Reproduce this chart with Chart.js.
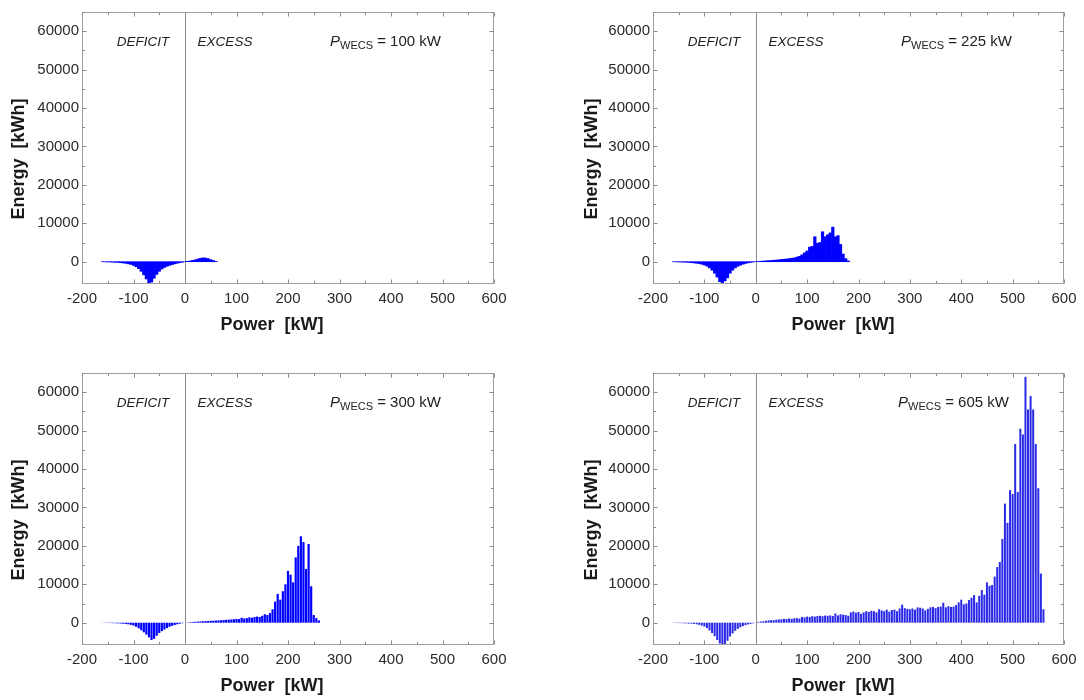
<!DOCTYPE html>
<html><head><meta charset="utf-8">
<script src="https://cdn.jsdelivr.net/npm/chart.js@4/dist/chart.umd.min.js"></script>
<style>
html,body{margin:0;padding:0;background:#fff;}
#wrap{position:relative;width:1084px;height:700px;overflow:hidden;}
canvas{position:absolute;}
</style></head><body>
<div id="wrap">
<canvas id="c0" width="542" height="339" style="left:0;top:0"></canvas>
<canvas id="c1" width="542" height="339" style="left:542px;top:0"></canvas>
<canvas id="c2" width="542" height="339" style="left:0;top:361px"></canvas>
<canvas id="c3" width="542" height="339" style="left:542px;top:361px"></canvas>
</div>
<script>
// ---------------- data ----------------
const wecsRatings = [100, 225, 300, 605];
const regionLabels = ['DEFICIT', 'EXCESS'];
const xTitle = 'Power  [kW]';
const yTitle = 'Energy  [kWh]';
const xTicks = [-200, -100, 0, 100, 200, 300, 400, 500, 600];
const yTicks = [0, 10000, 20000, 30000, 40000, 50000, 60000];

const deficitPower = [-160,-155,-150,-145,-140,-135,-130,-125,-120,-115,-110,-105,-100,-95,-90,-85,-80,-75,-70,-65,-60,-55,-50,-45,-40,-35,-30,-25,-20,-15,-10,-5,0];
const excessPower = [5,10,15,20,25,30,35,40,45,50,55,60,65,70,75,80,85,90,95,100,
 105,110,115,120,125,130,135,140,145,150,155,160,165,170,175,180,185,190,195,200,
 205,210,215,220,225,230,235,240,245,250,255,260,265,270,275,280,285,290,295,300,
 305,310,315,320,325,330,335,340,345,350,355,360,365,370,375,380,385,390,395,400,
 405,410,415,420,425,430,435,440,445,450,455,460,465,470,475,480,485,490,495,500,
 505,510,515,520,525,530,535,540,545,550,555,560];

const deficit100 = [-20,-40,-60,-90,-120,-160,-200,-260,-330,-420,-550,-700,-950,-1300,-1800,-2500,-3400,-4500,-5800,-5300,-4300,-3300,-2500,-1900,-1500,-1200,-950,-750,-550,-400,-250,-120,0];
const excess100 = [100,200,350,500,700,900,1000,950,800,550,300,80];

const deficit225 = [-20,-40,-60,-90,-120,-150,-200,-250,-320,-400,-500,-650,-850,-1150,-1600,-2200,-3000,-4000,-5200,-5500,-5000,-4200,-3000,-2200,-1600,-1200,-900,-650,-450,-300,-180,-80,0];
const excess225 = [60,120,180,230,280,330,380,430,500,600,650,700,800,900,1000,1200,1400,1800,2300,2800,
 3800,4000,6500,4800,5000,7800,6500,7000,7500,9000,6500,6800,4500,2000,800,200];

const deficit300 = [-30,-50,-70,-90,-110,-140,-170,-210,-260,-330,-420,-550,-750,-1050,-1450,-1950,-2500,-3100,-3800,-4500,-4200,-3400,-2700,-2200,-1800,-1400,-1050,-800,-600,-400,-250,-120,0];
const excess300 = [80,150,200,250,300,350,380,420,450,500,520,580,600,650,700,750,800,850,900,1000,
 950,1300,1100,1200,1400,1300,1500,1600,1500,1800,2200,2000,2500,3500,5500,7500,6000,8200,10000,13500,
 12500,10500,17000,20000,22500,21000,14000,20500,9500,2000,1200,600];

const deficit605 = [-50,-80,-100,-120,-150,-180,-220,-260,-320,-420,-550,-750,-1000,-1400,-2000,-2700,-3500,-4500,-5400,-6000,-5800,-4700,-3600,-2800,-2100,-1600,-1200,-900,-650,-450,-300,-150,0];
const excess605 = [200,300,400,500,600,700,650,800,850,900,
 1000,950,1100,1000,1150,1200,1100,1500,1400,1600,
 1500,1700,1600,1750,1800,1700,1850,1800,1900,1750,
 2400,1900,2200,2100,2000,1800,2700,2900,2600,2800,
 2300,2700,3000,2800,3100,3000,2700,3500,3200,3000,
 3400,2900,3300,3400,3000,3700,4700,3800,3600,3500,
 3700,3400,4000,3900,3700,3200,3600,4000,4100,3800,
 4100,4200,5200,4000,4300,4100,4200,4600,5300,6000,
 4800,5000,5900,6500,7200,5300,7000,8500,7300,10500,
 9600,9800,12000,14500,15800,21800,31000,26000,34500,33500,
 46500,34000,50500,49000,64000,55500,59000,55500,46500,35000,
 12800,3500];

// ---------------- rendering ----------------
const FAMILY = "'Liberation Sans', Arial, Helvetica, sans-serif";

const framePlugin = {
  id: 'frame',
  beforeDatasetsDraw(chart) {
    const {ctx, chartArea: a, scales: {x}} = chart;
    const x0 = Math.round(x.getPixelForValue(0)) + 0.5;
    ctx.save();
    ctx.strokeStyle = '#8a8a8a';
    ctx.lineWidth = 1;
    ctx.beginPath(); ctx.moveTo(x0, a.top); ctx.lineTo(x0, a.bottom); ctx.stroke();
    ctx.restore();
  },
  afterDraw(chart, args, opts) {
    const {ctx, chartArea: a, scales: {x, y}} = chart;
    ctx.save();
    // frame
    ctx.strokeStyle = '#a0a0a0';
    ctx.lineWidth = 1;
    const L = Math.round(a.left) + 0.5, R = Math.round(a.right) - 0.5;
    const T = Math.round(a.top) + 0.5, B = Math.round(a.bottom) - 0.5;
    ctx.strokeRect(L, T, R - L, B - T);
    // tick marks (inward, all four sides)
    ctx.strokeStyle = '#8a8a8a';
    ctx.beginPath();
    const xs = [];
    xTicks.forEach((v, i) => { xs.push([v, 4]); if (i < xTicks.length - 1) xs.push([(v + xTicks[i + 1]) / 2, 2.5]); });
    xs.forEach(([v, len]) => {
      const px = Math.round(x.getPixelForValue(v)) + 0.5;
      ctx.moveTo(px, B); ctx.lineTo(px, B - len);
      ctx.moveTo(px, T); ctx.lineTo(px, T + len);
    });
    const ys = [];
    yTicks.forEach((v) => { ys.push([v, 4]); ys.push([v + 5000, 2.5]); });
    ys.forEach(([v, len]) => {
      if (v > y.max) return;
      const py = Math.round(y.getPixelForValue(v)) + 0.5;
      ctx.moveTo(L, py); ctx.lineTo(L + len, py);
      ctx.moveTo(R, py); ctx.lineTo(R - len, py);
    });
    ctx.stroke();

    // region labels
    ctx.fillStyle = '#222';
    ctx.textBaseline = 'middle';
    ctx.textAlign = 'center';
    ctx.font = 'italic 13.5px ' + FAMILY;
    const ty = a.top + 30;
    ctx.fillText(regionLabels[0], a.left + 61, ty);
    ctx.fillText(regionLabels[1], a.left + 143, ty);

    // P_WECS label
    ctx.textAlign = 'left';
    let px = a.left + opts.pX;
    ctx.font = 'italic 15px ' + FAMILY;
    ctx.fillText('P', px, ty);
    px += ctx.measureText('P').width;
    ctx.font = '11px ' + FAMILY;
    ctx.fillText('WECS', px, ty + 4);
    px += ctx.measureText('WECS').width;
    ctx.font = '15px ' + FAMILY;
    ctx.fillText(' = ' + opts.rating + ' kW', px, ty);

    // axis titles
    ctx.fillStyle = '#1a1a1a';
    ctx.font = 'bold 18px ' + FAMILY;
    ctx.textAlign = 'center';
    ctx.fillText(xTitle, a.left + 190, a.bottom + 41);
    ctx.translate(opts.yTitleX, a.top + 147);
    ctx.rotate(-Math.PI / 2);
    ctx.fillText(yTitle, 0, 0);
    ctx.restore();
  }
};

function makeChart(id, rating, defVals, excVals, barPct, color, rightPad, yWidth, yTitleX, pX) {
  const pts = deficitPower.map((p, i) => ({x: p, y: defVals[i]}))
    .concat(excVals.map((v, i) => ({x: excessPower[i], y: v})));
  return new Chart(document.getElementById(id), {
    type: 'bar',
    data: { datasets: [{ data: pts, backgroundColor: color, borderWidth: 0,
      barPercentage: barPct, categoryPercentage: 1 }] },
    options: {
      responsive: false, animation: false, devicePixelRatio: 1,
      layout: { padding: { top: 10, right: rightPad, left: 0, bottom: 0 } },
      plugins: { legend: {display: false}, tooltip: {enabled: false},
        frame: { rating: rating, yTitleX: yTitleX, pX: pX } },
      scales: {
        x: { type: 'linear', min: -200, max: 600, offset: false,
          grid: {display: false, drawTicks: false}, border: {display: false},
          afterBuildTicks: s => { s.ticks = xTicks.map(v => ({value: v})); },
          afterFit: s => { s.height = 55; },
          ticks: { padding: 6, color: '#2a2a2a', font: {family: FAMILY, size: 15},
            maxRotation: 0, autoSkip: false, callback: v => String(v) } },
        y: { type: 'linear', min: -5800, max: 65000,
          grid: {display: false, drawTicks: false}, border: {display: false},
          afterBuildTicks: s => { s.ticks = yTicks.map(v => ({value: v})); },
          afterFit: s => { s.width = yWidth; },
          ticks: { padding: 3, color: '#2a2a2a', font: {family: FAMILY, size: 15},
            autoSkip: false, callback: v => String(v) } }
      }
    },
    plugins: [framePlugin]
  });
}

makeChart('c0', wecsRatings[0], deficit100, excess100, 1.0, '#0000ff', 48, 82, 19, 248);
makeChart('c1', wecsRatings[1], deficit225, excess225, 1.0, '#0000ff', 20, 111, 50, 248);
makeChart('c2', wecsRatings[2], deficit300, excess300, 0.85, '#0000ff', 48, 82, 19, 248);
makeChart('c3', wecsRatings[3], deficit605, excess605, 0.78, '#2a2ae6', 20, 111, 50, 245);
</script>
</body></html>
